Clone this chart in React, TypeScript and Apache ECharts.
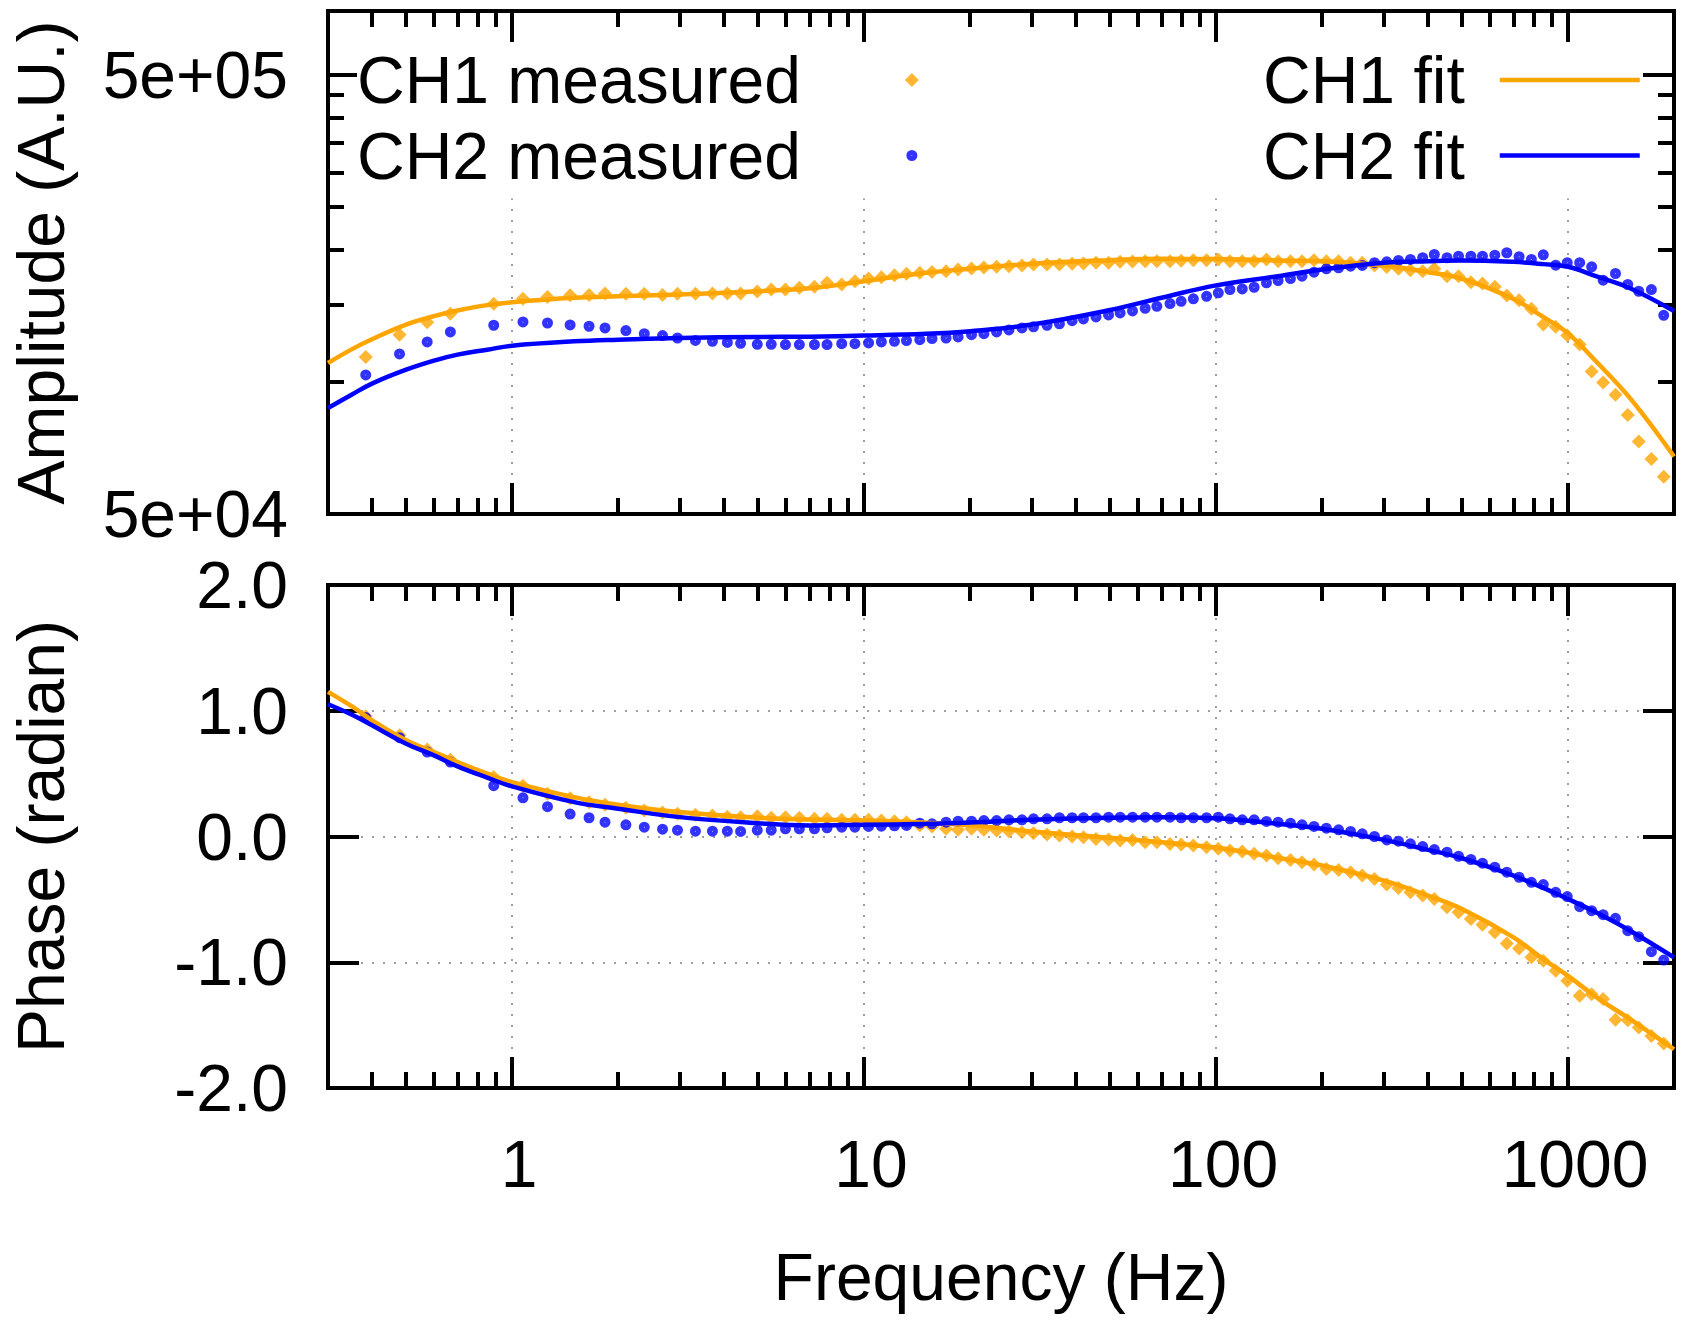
import React, { useEffect, useRef } from 'react';
import * as echarts from 'echarts';

const FONT = "'Liberation Sans', Arial, Helvetica, sans-serif";
const ORANGE = '#ffa500';
const BLUE = '#0000ff';
const GRID_GRAY = '#a0a0a0';

// measured frequencies (Hz), shared by both channels and both panels
const freq = [
  0.384, 0.479, 0.574, 0.668, 0.887, 1.074, 1.261, 1.462, 1.655, 1.837, 2.106, 2.375, 2.676, 2.951, 3.319, 3.709,
  4.089, 4.46, 4.973, 5.449, 5.98, 6.55, 7.23, 7.85, 8.64, 9.42, 10.3, 11.2, 12.2, 13.2, 14.4, 15.6, 17.1, 18.5, 20.2,
  21.9, 23.8, 25.8, 28.1, 30.3, 33.1, 35.9, 39.0, 42.0, 45.6, 49.5, 53.4, 57.9, 62.9, 67.9, 74.0, 79.6, 86.2, 94.0,
  101.5, 109.5, 118.7, 128.3, 139.1, 150.1, 162.7, 175.5, 189.8, 205.8, 222.9, 241.1, 260.2, 281.9, 305.5, 329.8,
  356.6, 386.4, 417.0, 453.1, 488.6, 529.7, 571.4, 619.4, 669.9, 726.0, 786.8, 850.6, 922.5, 994.8, 1079, 1167, 1258,
  1364, 1478, 1588, 1725, 1870,
];

const ch1Amp = [
  114000, 128000, 136700, 142900, 150600, 154600, 156200, 157500, 157800, 159000, 158700, 158700, 157800, 158700,
  158700, 159000, 159000, 159000, 160700, 162300, 162300, 163800, 164700, 168200, 166700, 169600, 172000, 173200,
  175000, 176300, 177200, 178100, 178700, 180300, 181300, 182300, 182900, 183500, 184200, 185200, 185200, 185200,
  185900, 186200, 186900, 186900, 187700, 188100, 188400, 188400, 188400, 188800, 189400, 189400, 190100, 188400,
  188400, 188400, 190100, 188400, 188400, 188400, 189400, 188400, 188400, 186900, 186900, 184200, 182600, 181000,
  179700, 178700, 181000, 174100, 174100, 168700, 167500, 164700, 157300, 153400, 146700, 135100, 133500, 127500,
  121600, 105600, 99700, 93500, 84100, 73100, 66700, 60800,
];

const ch2Amp = [
  103700, 115800, 123300, 130000, 134600, 137000, 136200, 134800, 133900, 132700, 130900, 128800, 127500, 125900,
  124300, 123700, 123000, 122400, 121800, 121800, 121600, 121600, 121600, 121600, 122200, 122200, 122700, 123300,
  123700, 124200, 124800, 125500, 125900, 126600, 128100, 128800, 130000, 131300, 132700, 133500, 134600, 135600,
  137900, 139100, 140600, 142100, 143600, 145100, 147100, 148700, 150800, 152600, 154600, 156700, 159600, 162300,
  162900, 164300, 168200, 170200, 172000, 174100, 177800, 181000, 181900, 183500, 184200, 186900, 187700, 189100,
  190100, 191800, 195100, 191800, 193400, 193400, 193400, 194400, 196900, 192800, 190100, 194800, 184500, 186900,
  186900, 182900, 170500, 176600, 166700, 160900, 162300, 141800,
];

const ch1Phase = [
  0.956, 0.805, 0.691, 0.611, 0.473, 0.404, 0.34, 0.305, 0.273, 0.253, 0.229, 0.207, 0.191, 0.181, 0.173, 0.167,
  0.157, 0.154, 0.162, 0.149, 0.154, 0.149, 0.141, 0.141, 0.133, 0.133, 0.133, 0.127, 0.122, 0.114, 0.088, 0.08,
  0.061, 0.053, 0.061, 0.053, 0.048, 0.042, 0.034, 0.026, 0.016, 0.008, 0.0, -0.005, -0.019, -0.024, -0.032, -0.027,
  -0.045, -0.045, -0.059, -0.064, -0.072, -0.085, -0.098, -0.112, -0.12, -0.138, -0.151, -0.173, -0.186, -0.205,
  -0.223, -0.258, -0.266, -0.284, -0.311, -0.337, -0.382, -0.409, -0.444, -0.47, -0.497, -0.563, -0.603, -0.656,
  -0.701, -0.762, -0.85, -0.89, -0.961, -0.988, -1.068, -1.147, -1.267, -1.254, -1.293, -1.458, -1.461, -1.519,
  -1.586, -1.647,
];

const ch2Phase = [
  0.946, 0.786, 0.672, 0.592, 0.404, 0.308, 0.237, 0.178, 0.149, 0.114, 0.093, 0.074, 0.058, 0.05, 0.042, 0.042,
  0.042, 0.04, 0.05, 0.05, 0.061, 0.061, 0.061, 0.069, 0.074, 0.074, 0.08, 0.082, 0.085, 0.088, 0.106, 0.101, 0.114,
  0.122, 0.122, 0.127, 0.127, 0.133, 0.133, 0.141, 0.141, 0.149, 0.149, 0.149, 0.149, 0.154, 0.154, 0.154, 0.154,
  0.154, 0.154, 0.149, 0.149, 0.149, 0.154, 0.141, 0.133, 0.133, 0.12, 0.114, 0.106, 0.093, 0.08, 0.066, 0.053, 0.04,
  0.021, 0.0, -0.027, -0.037, -0.058, -0.08, -0.104, -0.125, -0.157, -0.183, -0.212, -0.244, -0.284, -0.324, -0.364,
  -0.382, -0.444, -0.478, -0.558, -0.59, -0.622, -0.651, -0.749, -0.797, -0.916, -0.983,
];

// fitted model curves, sampled at these frequencies
const fitFreq = [
  0.3, 0.35, 0.4, 0.5, 0.6, 0.7, 0.85, 1, 1.5, 2, 3, 5, 7, 10, 15, 20, 30, 50, 70, 100, 150, 200, 300, 400, 500, 700,
  850, 1000, 1200, 1500, 2000,
];
const ch1FitAmp = [
  110400, 118600, 125100, 135100, 141200, 145400, 149600, 151900, 155500, 156700, 158100, 160900, 163400, 169600,
  177200, 181000, 185900, 189400, 190700, 190500, 189100, 188400, 184200, 177800, 171800, 154600, 140600, 129000,
  111400, 91800, 67600,
];
const ch2FitAmp = [
  87200, 93500, 99100, 106600, 111800, 115400, 118400, 120900, 123700, 124800, 125900, 126600, 126800, 127500,
  128700, 130500, 135100, 145800, 155500, 165900, 174100, 180300, 186900, 188400, 189100, 187700, 185500, 182900,
  174100, 163500, 145000,
];
const ch1FitPhase = [
  1.15, 1.036, 0.924, 0.765, 0.672, 0.592, 0.5, 0.433, 0.313, 0.253, 0.194, 0.149, 0.135, 0.127, 0.11, 0.09, 0.04,
  -0.01, -0.045, -0.088, -0.17, -0.231, -0.351, -0.47, -0.576, -0.802, -0.975, -1.108, -1.275, -1.453, -1.692,
];
const ch2FitPhase = [
  1.052, 0.97, 0.884, 0.738, 0.645, 0.558, 0.468, 0.398, 0.273, 0.221, 0.154, 0.106, 0.088, 0.093, 0.101, 0.112,
  0.133, 0.149, 0.154, 0.145, 0.101, 0.061, -0.027, -0.106, -0.173, -0.311, -0.409, -0.497, -0.603, -0.749, -0.961,
];

// ticks
const xMajorTicks = [1, 10, 100, 1000];
const xMinorTicks = [0.4, 0.5, 0.6, 0.7, 0.8, 0.9, 2, 3, 4, 5, 6, 7, 8, 9, 20, 30, 40, 50, 60, 70, 80, 90, 200, 300, 400, 500, 600, 700, 800, 900];
const ampMajorTicks = [50000, 500000];
const ampMinorTicks = [100000, 150000, 200000, 250000, 300000, 350000, 400000, 450000];

const DIAMOND = 'path://M0,-1L1,0L0,1L-1,0Z';
const DOT = 'path://M1,0A1,1,0,1,1,-1,0A1,1,0,1,1,1,0ZM0.09,0A0.09,0.09,0,1,0,-0.09,0A0.09,0.09,0,1,0,0.09,0Z';

const zip = (xs: number[], ys: number[]) => xs.map((x, i) => [x, ys[i]]);

function sci(v: number): string {
  const e = Math.floor(Math.log10(v) + 1e-9);
  const m = Math.round(v / Math.pow(10, e));
  return `${m}e+${String(e).padStart(2, '0')}`;
}

const textFont = { fontFamily: FONT, fontSize: 66, lineHeight: 66, color: '#000' };
const borderLine = { show: true, onZero: false, lineStyle: { color: '#000', width: 4, cap: 'square' as const } };
const noLine = { show: false, onZero: false };
const gridLine = { show: true, lineStyle: { color: GRID_GRAY, width: 2, type: [2, 9] as number[] } };
const tick = (vals: number[] | null, len: number) => ({
  show: true,
  inside: true,
  length: len,
  ...(vals ? { customValues: vals } : {}),
  lineStyle: { color: '#000', width: 4 },
});

function xAxesFor(gridIndex: number, bottomLabels: boolean) {
  const base = {
    type: 'log' as const,
    logBase: 10,
    min: 0.3,
    max: 2000,
    gridIndex,
    axisLabel: { show: false },
    splitLine: { show: false },
    z: 1,
  };
  return [
    {
      ...base,
      position: 'bottom',
      axisLine: borderLine,
      axisTick: tick(xMajorTicks, 31),
      ...(bottomLabels
        ? {
            axisLabel: {
              show: true,
              customValues: xMajorTicks,
              formatter: (v: number) => String(Math.round(v)),
              margin: 43,
              padding: [0, 0, 0, 14],
              ...textFont,
            },
            name: 'Frequency (Hz)',
            nameLocation: 'middle',
            nameGap: 156,
            nameTextStyle: textFont,
          }
        : {}),
    },
    { ...base, position: 'bottom', axisLine: noLine, axisTick: tick(xMinorTicks, 16) },
    { ...base, position: 'top', axisLine: borderLine, axisTick: tick(xMajorTicks, 31) },
    { ...base, position: 'top', axisLine: noLine, axisTick: tick(xMinorTicks, 16) },
    // dotted grid lines only, kept below the ticks
    {
      ...base,
      position: 'bottom',
      z: 0,
      axisLine: noLine,
      axisTick: { show: false, customValues: xMajorTicks },
      splitLine: gridLine,
    },
  ];
}

const ampY = {
  type: 'log' as const,
  logBase: 10,
  min: 50000,
  max: 700000,
  gridIndex: 0,
  axisLabel: { show: false },
  splitLine: { show: false },
  z: 1,
};
const phaseY = {
  type: 'value' as const,
  min: -2,
  max: 2,
  interval: 1,
  gridIndex: 1,
  axisLabel: { show: false },
  splitLine: { show: false },
  z: 1,
};

const fitLine = (name: string, x: number, y: number, ys: number[], color: string) => ({
  type: 'line',
  name,
  xAxisIndex: x,
  yAxisIndex: y,
  data: zip(fitFreq, ys),
  symbol: 'none',
  smooth: 0.4,
  lineStyle: { color, width: 4.5 },
  itemStyle: { color },
});

function buildOption(): echarts.EChartsOption {
  const legendBase = {
    orient: 'vertical' as const,
    align: 'right' as const,
    selectedMode: false,
    backgroundColor: '#fff',
    textStyle: textFont,
  };
  const fitLegend = (name: string, top: number, padding: number[]) => ({
    ...legendBase,
    data: [{ name, itemStyle: { opacity: 0 }, lineStyle: { width: 4.5 } }],
    right: 48,
    top,
    padding,
    itemWidth: 140,
    itemHeight: 14,
    lineStyle: { width: 4.5 },
    textStyle: { ...textFont, padding: [0, 30, 0, 0] },
  });
  return {
    animation: false,
    backgroundColor: '#fff',
    textStyle: { fontFamily: FONT },
    grid: [
      { left: 323, top: 11, width: 1351, height: 503 },
      { left: 323, top: 585, width: 1351, height: 503 },
    ],
    xAxis: [...xAxesFor(0, false), ...xAxesFor(1, true)] as any,
    yAxis: [
      {
        ...ampY,
        position: 'left',
        axisLine: borderLine,
        axisTick: tick(ampMajorTicks, 31),
        axisLabel: { show: true, customValues: ampMajorTicks, formatter: (v: number) => sci(v), margin: 40, ...textFont },
        name: 'Amplitude (A.U.)',
        nameLocation: 'middle',
        nameGap: 254,
        nameTextStyle: textFont,
      },
      { ...ampY, position: 'left', axisLine: noLine, axisTick: tick(ampMinorTicks, 16) },
      { ...ampY, position: 'right', axisLine: borderLine, axisTick: tick(ampMajorTicks, 31) },
      { ...ampY, position: 'right', axisLine: noLine, axisTick: tick(ampMinorTicks, 16) },
      {
        ...phaseY,
        position: 'left',
        axisLine: borderLine,
        axisTick: tick(null, 31),
        axisLabel: { show: true, formatter: (v: number) => v.toFixed(1), margin: 40, ...textFont },
        name: 'Phase (radian)',
        nameLocation: 'middle',
        nameGap: 254,
        nameTextStyle: textFont,
      },
      { ...phaseY, position: 'right', axisLine: borderLine, axisTick: tick(null, 31) },
      { ...phaseY, position: 'left', z: 0, axisLine: noLine, axisTick: { show: false }, splitLine: gridLine },
    ] as any,
    legend: [
      { ...legendBase, data: ['CH1 measured'], left: 357, top: 42, padding: [5, 0, 0, 0], itemWidth: 212, itemHeight: 14 },
      { ...legendBase, data: ['CH2 measured'], left: 357, top: 113, padding: [9.5, 0, 10, 0], itemWidth: 212, itemHeight: 11 },
      fitLegend('CH1 fit', 42, [5, 0, 0, 65]),
      fitLegend('CH2 fit', 113, [9.5, 0, 10, 65]),
    ] as any,
    series: [
      { type: 'scatter', name: 'CH1 measured', xAxisIndex: 0, yAxisIndex: 0, data: zip(freq, ch1Amp), symbol: DIAMOND, symbolSize: 14, itemStyle: { color: ORANGE } },
      { type: 'scatter', name: 'CH2 measured', xAxisIndex: 0, yAxisIndex: 0, data: zip(freq, ch2Amp), symbol: DOT, symbolSize: 11, itemStyle: { color: BLUE } },
      fitLine('CH1 fit', 0, 0, ch1FitAmp, ORANGE),
      fitLine('CH2 fit', 0, 0, ch2FitAmp, BLUE),
      { type: 'scatter', name: 'CH1 measured', xAxisIndex: 5, yAxisIndex: 4, data: zip(freq, ch1Phase), symbol: DIAMOND, symbolSize: 14, itemStyle: { color: ORANGE } },
      { type: 'scatter', name: 'CH2 measured', xAxisIndex: 5, yAxisIndex: 4, data: zip(freq, ch2Phase), symbol: DOT, symbolSize: 11, itemStyle: { color: BLUE } },
      fitLine('CH1 fit', 5, 4, ch1FitPhase, ORANGE),
      fitLine('CH2 fit', 5, 4, ch2FitPhase, BLUE),
    ] as any,
  };
}

export default function App() {
  const elRef = useRef<HTMLDivElement | null>(null);

  useEffect(() => {
    if (!elRef.current) return;
    const chart = echarts.init(elRef.current, null, { renderer: 'svg' });
    chart.setOption(buildOption());
    return () => chart.dispose();
  }, []);

  return (
    <div
      ref={elRef}
      style={{ position: 'fixed', left: 0, top: 0, width: 1690, height: 1324, background: '#fff' }}
    />
  );
}
